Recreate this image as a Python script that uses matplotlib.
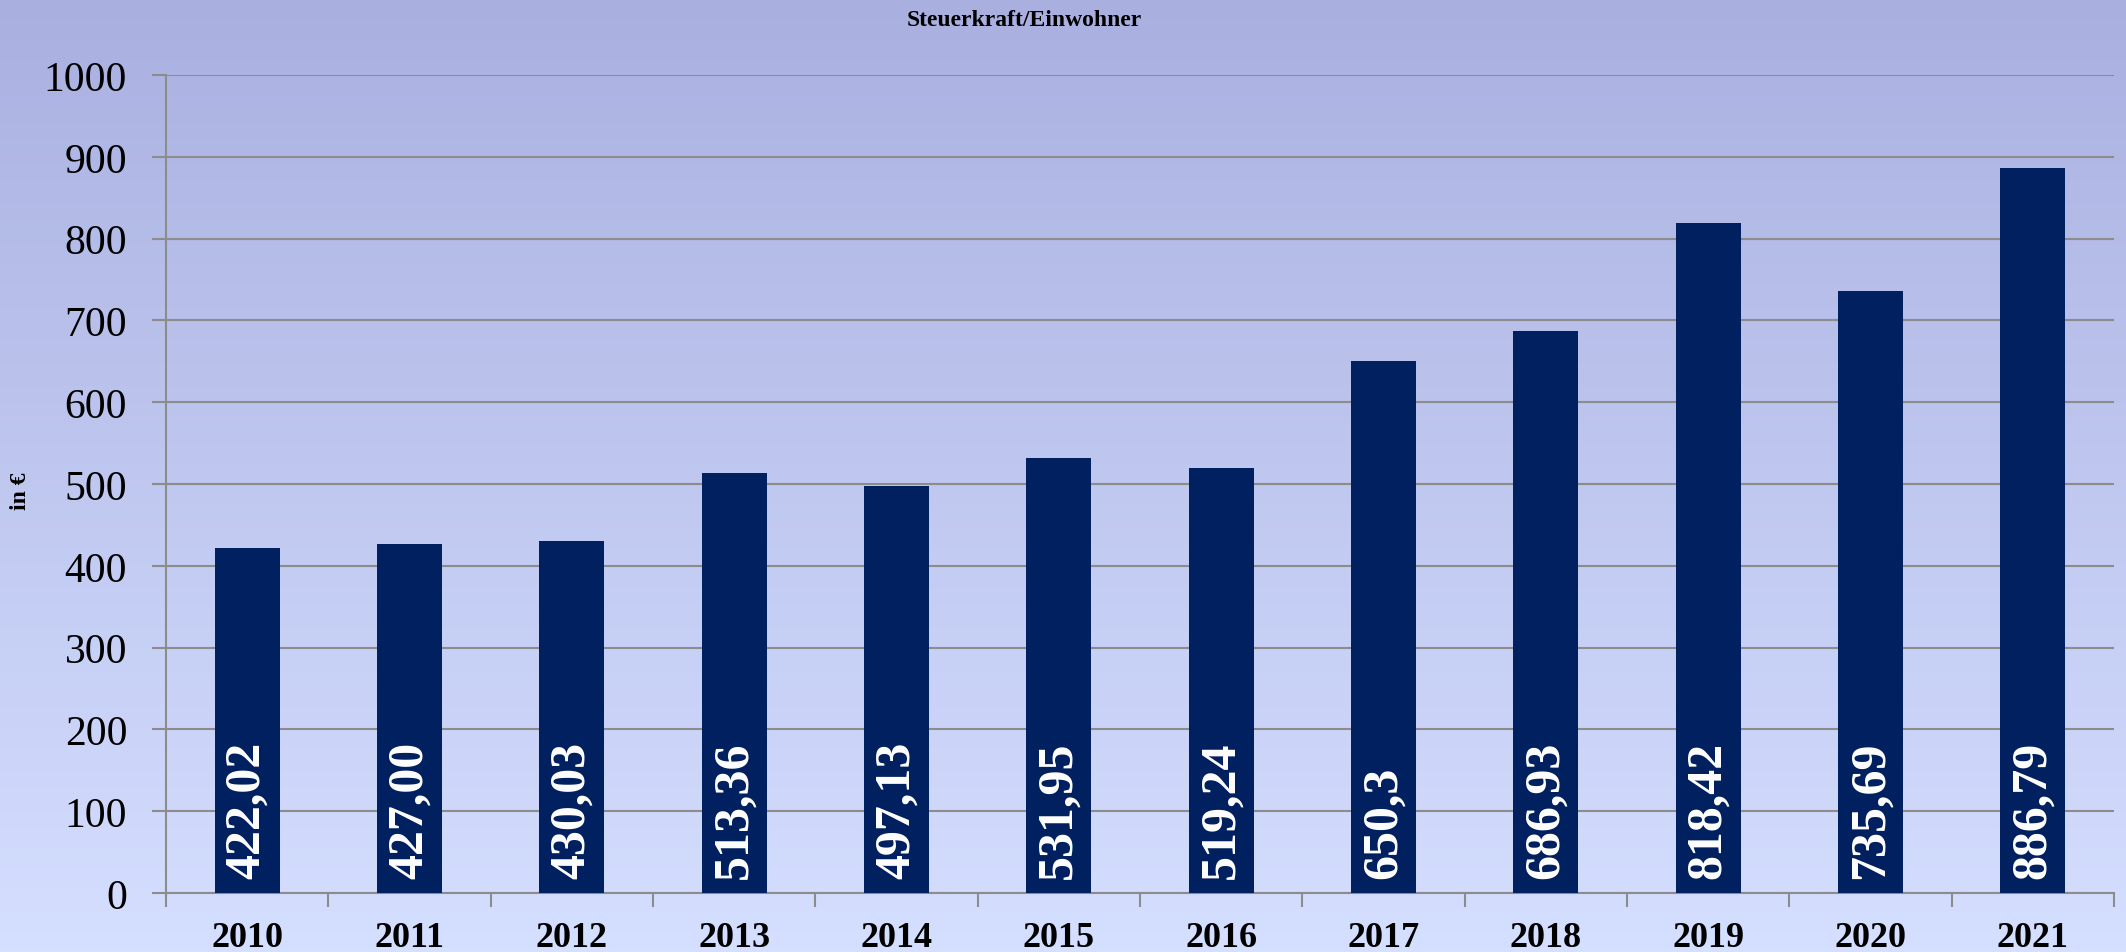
import matplotlib.pyplot as plt
import numpy as np

plt.rcParams['font.family'] = ['Liberation Serif', 'DejaVu Serif']

# --- Data ------------------------------------------------------------
years = ['2010', '2011', '2012', '2013', '2014', '2015',
         '2016', '2017', '2018', '2019', '2020', '2021']
values = [422.02, 427.00, 430.03, 513.36, 497.13, 531.95,
          519.24, 650.3, 686.93, 818.42, 735.69, 886.79]
value_labels = ['422,02', '427,00', '430,03', '513,36', '497,13', '531,95',
                '519,24', '650,3', '686,93', '818,42', '735,69', '886,79']

BAR = '#002060'
GRID = '#8c8c8c'

fig = plt.figure(figsize=(21.26, 9.53), dpi=100)

# background gradient over whole figure
bg = fig.add_axes([0, 0, 1, 1], zorder=-10)
grad = np.linspace(0, 1, 256).reshape(-1, 1)
top = np.array([169, 176, 224]) / 255
bot = np.array([213, 223, 255]) / 255
img = top + (bot - top) * grad[..., None]
img = np.repeat(img, 2, axis=1)
bg.imshow(img, aspect='auto', extent=[0, 1, 0, 1])
bg.axis('off')

ax = fig.add_axes([0.0781, 0.0619, 0.9163, 0.8584])
ax.patch.set_alpha(0)

x = np.arange(len(years))
bars = ax.bar(x, values, width=0.4, color=BAR, zorder=3)

for xi, lbl in zip(x, value_labels):
    ax.annotate(lbl, xy=(xi, 0), xytext=(0, 11), textcoords='offset points',
                rotation=90, ha='center', va='bottom', color='white',
                fontsize=36, fontweight='bold', zorder=4)

ax.set_xlim(-0.5, len(years) - 0.5)
ax.set_ylim(0, 1000)
ax.set_yticks(np.arange(0, 1001, 100))
ax.tick_params(axis='y', labelsize=30, length=10, color=GRID, pad=18)
ax.yaxis.grid(True, color=GRID, linewidth=1.5, zorder=0)

ax.set_xticks(x)
ax.set_xticklabels(years, fontsize=26, fontweight='bold')
ax.set_xticks(np.arange(-0.5, len(years), 1), minor=True)
ax.tick_params(axis='x', which='major', length=0, pad=20)
ax.tick_params(axis='x', which='minor', length=10, color=GRID, width=1.5)

for s in ['top', 'right']:
    ax.spines[s].set_visible(False)
for s in ['left', 'bottom']:
    ax.spines[s].set_color(GRID)
    ax.spines[s].set_linewidth(1.5)
ax.tick_params(axis='y', width=1.5)

fig.text(0.482, 0.978, 'Steuerkraft/Einwohner', ha='center', va='center',
         fontsize=17, fontweight='bold')
fig.text(0.0095, 0.485, 'in €', ha='center', va='center', rotation=90,
         fontsize=17, fontweight='bold')

fig.savefig('out.png', dpi=100)
